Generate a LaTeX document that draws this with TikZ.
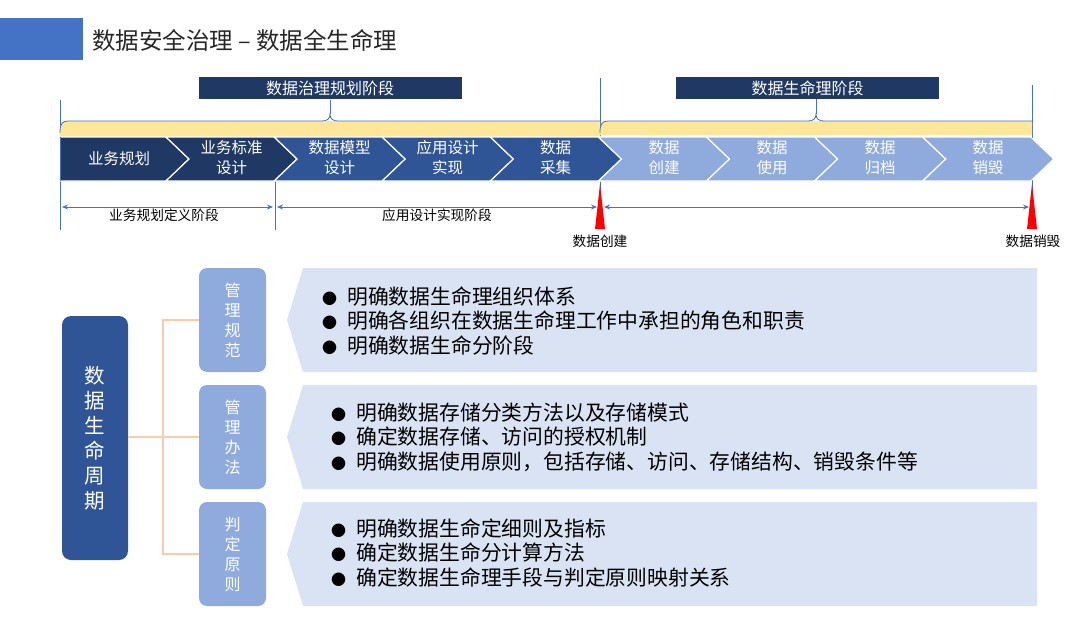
\documentclass[tikz,border=0pt]{standalone}
\usepackage{fontspec}
\setmainfont{Noto Sans CJK SC}
\usetikzlibrary{arrows.meta}
\definecolor{navy}{HTML}{203864}
\definecolor{midblue}{HTML}{2F5597}
\definecolor{lightblue}{HTML}{8FAADC}
\definecolor{cardfill}{HTML}{DAE3F3}
\definecolor{lineblue}{HTML}{4472C4}
\definecolor{bandyellow}{HTML}{FFE699}
\definecolor{peach}{HTML}{F8CBAD}
\definecolor{titlegray}{HTML}{262626}
\newcommand{\bul}{\makebox[25pt][l]{\fontsize{15}{15}\selectfont ●}}
\begin{document}
\begin{tikzpicture}[x=1pt,y=-1pt,
  chevtext/.style={text=white,font=\fontsize{15.5}{20}\selectfont,align=center,inner sep=0pt},
  stagelab/.style={fill=navy,text=white,font=\fontsize{16}{16}\selectfont,minimum width=263pt,minimum height=22pt,inner sep=0pt},
  bl/.style={draw=lineblue,line width=0.8pt},
  dim/.style={draw=lineblue,line width=1pt,{Stealth[length=6pt,width=5pt]}-{Stealth[length=6pt,width=5pt]}},
  smalllab/.style={font=\fontsize{13.7}{13.7}\selectfont,text=black,inner sep=0pt},
  bignode/.style={fill=midblue,rounded corners=9pt,minimum width=66pt,minimum height=244pt,text=white,font=\fontsize{20.5}{25}\selectfont,align=center,inner sep=0pt},
  smallbox/.style={fill=lightblue,rounded corners=8pt,minimum width=67pt,minimum height=104pt,text=white,font=\fontsize{16}{20}\selectfont,align=center,inner sep=0pt},
  cardtext/.style={anchor=west,align=left,inner sep=0pt,text=black,font=\fontsize{20.8}{24.5}\selectfont},
  conn/.style={draw=peach,line width=1.3pt}
]
\useasboundingbox (0,0) rectangle (1080,618);

% title
\fill[lineblue] (0,18) rectangle (83,60);
\node[anchor=west,inner sep=0pt,text=titlegray,font=\fontsize{23.5}{23.5}\selectfont] (title) at (92,40) {数据安全治理 – 数据全生命理};

% stage labels
\node[stagelab] (lab1) at (330,88.5) {数据治理规划阶段};
\node[stagelab] (lab2) at (807.5,88) {数据生命理阶段};

% vertical guide lines
\draw[bl] (60,100) -- (60,230);
\draw[bl] (275,181) -- (275,230);
\draw[bl] (600,78) -- (600,190);
\draw[bl] (1032,85) -- (1032,190);

% braces
\fill[bandyellow] (60,137) -- (60,130) .. controls (60,124) and (62,121) .. (68,121) -- (600,121) -- (600,137) -- cycle;
\fill[bandyellow] (600,135) -- (600,130) .. controls (600,124) and (602,121) .. (608,121) -- (1032,121) -- (1032,135) -- cycle;
\draw[bl] (60,133) .. controls (60,124) and (62,121) .. (68,121) -- (322,121) .. controls (327,121) and (330,119) .. (330,114) .. controls (330,119) and (333,121) .. (338,121) -- (600,121);
\draw[bl] (330,114) -- (lab1.south);
\draw[bl] (600,133) .. controls (600,124) and (602,121) .. (608,121) -- (808,121) .. controls (813,121) and (816,119) .. (816,114) .. controls (816,119) and (819,121) .. (824,121) -- (1032,121);
\draw[bl] (816,114) -- (816,0 |- lab2.south);

% chevrons
\foreach \i/\col in {0/navy,1/navy,2/midblue,3/midblue,4/midblue,5/lightblue,6/lightblue,7/lightblue,8/lightblue} {
  \pgfmathsetmacro\T{189+108.1*\i}
  \pgfmathsetmacro\P{\T-108.1}
  \pgfmathsetmacro\R{\T-23}
  \pgfmathsetmacro\L{\P-23}
  \ifnum\i=0
    \filldraw[fill=\col,draw=white,line width=1.2pt,line join=miter] (60,137) -- (\R,137) -- (\T,159) -- (\R,181) -- (60,181) -- cycle;
  \else
    \filldraw[fill=\col,draw=white,line width=1.2pt,line join=miter] (\L,137) -- (\R,137) -- (\T,159) -- (\R,181) -- (\L,181) -- (\P,159) -- cycle;
  \fi
}
\draw[lineblue,line width=0.8pt] (60,137) -- (60,181);
\node[chevtext] (c0) at (119,159) {业务规划};
\node[chevtext] (c1) at (231.5,158) {业务标准\\设计};
\node[chevtext] (c2) at (339.5,158) {数据模型\\设计};
\node[chevtext] (c3) at (447.5,158) {应用设计\\实现};
\node[chevtext] (c4) at (555.5,158) {数据\\采集};
\node[chevtext] (c5) at (664,158) {数据\\创建};
\node[chevtext] (c6) at (772,158) {数据\\使用};
\node[chevtext] (c7) at (880,158) {数据\\归档};
\node[chevtext] (c8) at (988,158) {数据\\销毁};

% dimension arrows
\coordinate (d1a) at (62,207);
\coordinate (d1b) at (273,207);
\coordinate (d2a) at (277,207);
\coordinate (d2b) at (597,207);
\coordinate (d3a) at (604,207);
\coordinate (d3b) at (1029,207);
\draw[dim] (d1a) -- (d1b);
\draw[dim] (d2a) -- (d2b);
\draw[dim] (d3a) -- (d3b);
\node[smalllab] (t1) at (164,215) {业务规划定义阶段};
\node[smalllab] (t2) at (437,215) {应用设计实现阶段};

% red markers
\fill[red] (600,184) -- (605,229) -- (595,229) -- cycle;
\fill[red] (1032,184) -- (1037,229) -- (1027,229) -- cycle;
\node[smalllab] (m1) at (600,241) {数据创建};
\node[smalllab] (m2) at (1033,241) {数据销毁};

% cards
\fill[cardfill] (303,268) -- (1037,268) -- (1037,372) -- (303,372) -- (287,320) -- cycle;
\fill[cardfill] (303,385) -- (1037,385) -- (1037,489) -- (303,489) -- (287,437) -- cycle;
\fill[cardfill] (303,502) -- (1037,502) -- (1037,606) -- (303,606) -- (287,554) -- cycle;

\node[cardtext] (k1) at (322,321) {\bul 明确数据生命理组织体系\\\bul 明确各组织在数据生命理工作中承担的角色和职责\\\bul 明确数据生命分阶段};
\node[cardtext] (k2) at (331,437) {\bul 明确数据存储分类方法以及存储模式\\\bul 确定数据存储、访问的授权机制\\\bul 明确数据使用原则，包括存储、访问、存储结构、销毁条件等};
\node[cardtext] (k3) at (331,553) {\bul 明确数据生命定细则及指标\\\bul 确定数据生命分计算方法\\\bul 确定数据生命理手段与判定原则映射关系};

% left tree
\node[bignode] (big) at (95,438) {数\\据\\生\\命\\周\\期};
\node[smallbox] (b1) at (232.5,320) {管\\理\\规\\范};
\node[smallbox] (b2) at (232.5,437) {管\\理\\办\\法};
\node[smallbox] (b3) at (232.5,554) {判\\定\\原\\则};
\coordinate (hub) at (163,437);
\draw[conn] (big.east |- hub) -- (b2.west);
\draw[conn] (b1.west) -- (b1.west -| hub) -- (b3.west -| hub) -- (b3.west);
\end{tikzpicture}
\end{document}
